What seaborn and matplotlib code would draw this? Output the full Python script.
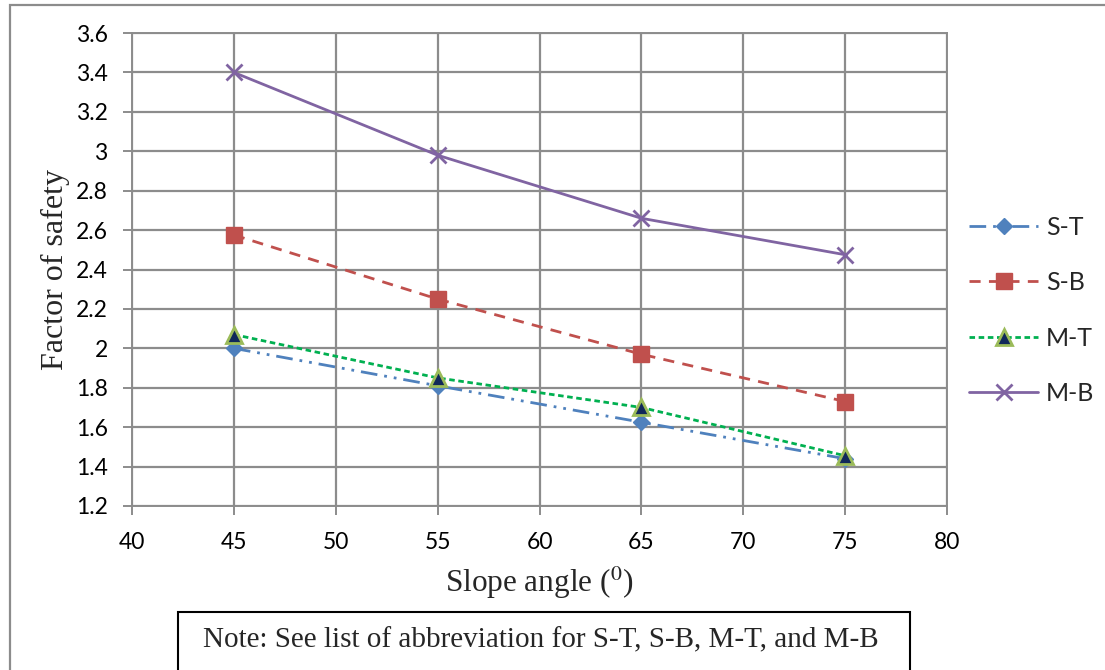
import numpy as np
import pandas as pd
import matplotlib
matplotlib.use("Agg")
import matplotlib.pyplot as plt
from matplotlib.patches import Rectangle
import seaborn as sns

# Slope angle (degrees) and factor of safety for each case
slope_angle = [45, 55, 65, 75]
fs_st = [2.00, 1.81, 1.625, 1.44]
fs_sb = [2.575, 2.25, 1.97, 1.73]
fs_mt = [2.07, 1.85, 1.70, 1.455]
fs_mb = [3.40, 2.98, 2.66, 2.475]

series_names = ["S-T", "S-B", "M-T", "M-B"]
x_ticks = [40, 45, 50, 55, 60, 65, 70, 75, 80]
y_ticks = [1.2, 1.4, 1.6, 1.8, 2.0, 2.2, 2.4, 2.6, 2.8, 3.0, 3.2, 3.4, 3.6]

df = pd.DataFrame({
    "angle": slope_angle * 4,
    "fs": fs_st + fs_sb + fs_mt + fs_mb,
    "case": sum([[n] * len(slope_angle) for n in series_names], []),
})

sns.set_theme(style="white")
plt.rcParams["font.family"] = ["Lato", "DejaVu Sans"]
plt.rcParams["mathtext.fontset"] = "stix"

fig = plt.figure(figsize=(11.05, 6.7), dpi=100)
ax = fig.add_axes([0.1195, 0.2448, 0.7375, 0.7059])

styles = {
    "S-T": dict(color="#4F81BD", ls=(0, (6, 2.5, 1, 2.5, 1, 2.5)), marker="D", ms=8,
                mfc="#4F81BD", mec="#4F81BD", mew=1),
    "S-B": dict(color="#C0504D", ls=(0, (4, 3)), marker="s", ms=11,
                mfc="#C0504D", mec="#C0504D", mew=1),
    "M-T": dict(color="#00B050", ls=(0, (2, 1.3)), marker="^", ms=11,
                mfc="#10285A", mec="#9BBB59", mew=2),
    "M-B": dict(color="#8064A2", ls="-", marker="x", ms=11,
                mfc="#8064A2", mec="#8064A2", mew=2),
}

for name in series_names:
    st = styles[name]
    sub = df[df["case"] == name]
    sns.lineplot(data=sub, x="angle", y="fs", ax=ax, label=name,
                 color=st["color"], linestyle=st["ls"], linewidth=2,
                 marker=st["marker"], markersize=st["ms"],
                 markerfacecolor=st["mfc"], markeredgecolor=st["mec"],
                 markeredgewidth=st["mew"], zorder=3)

ax.set_xlim(40, 80)
ax.set_ylim(1.2, 3.6)
ax.set_xticks(x_ticks)
ax.set_yticks(y_ticks)
ax.set_xticklabels([str(v) for v in x_ticks])
ax.set_yticklabels([("%g" % v) for v in y_ticks])
ax.grid(True, color="#8C8C8C", linewidth=1.6)
ax.set_axisbelow(True)
for sp in ax.spines.values():
    sp.set_color("#8C8C8C")
    sp.set_linewidth(1.4)
ax.tick_params(axis="both", which="both", direction="out", length=6.5,
               width=1.4, color="#8C8C8C", labelsize=16.5, labelcolor="black",
               bottom=True, left=True)
ax.tick_params(axis="y", pad=11)
ax.tick_params(axis="x", pad=12)

ax.set_xlabel("Slope angle ($^{0}$)", fontsize=22.5, family="Liberation Serif",
              labelpad=9)
ax.set_ylabel("Factor of safety", fontsize=23, family="Liberation Serif",
              labelpad=4)

leg = ax.legend(loc="center left", bbox_to_anchor=(0.857, 0.5366),
                bbox_transform=fig.transFigure, frameon=False, fontsize=18,
                handlelength=2.75, labelspacing=1.3, handletextpad=0.3)

# Outer chart border
fig.add_artist(Rectangle((10 / 1105, -0.05), 1.2, 1 - 5 / 670 + 0.05,
                         transform=fig.transFigure, fill=False,
                         edgecolor="#8C8C8C", linewidth=1.6))

# Note box
fig.add_artist(Rectangle((178 / 1105, -0.05), (910 - 178) / 1105, 0.05 + 1 - 612 / 670,
                         transform=fig.transFigure, fill=False,
                         edgecolor="black", linewidth=1.5))
fig.text(541 / 1105, 1 - 640 / 670, "Note: See list of abbreviation for S-T, S-B, M-T, and M-B",
         ha="center", va="center", fontsize=21, family="Liberation Serif")

fig.savefig("out.png", dpi=100)
